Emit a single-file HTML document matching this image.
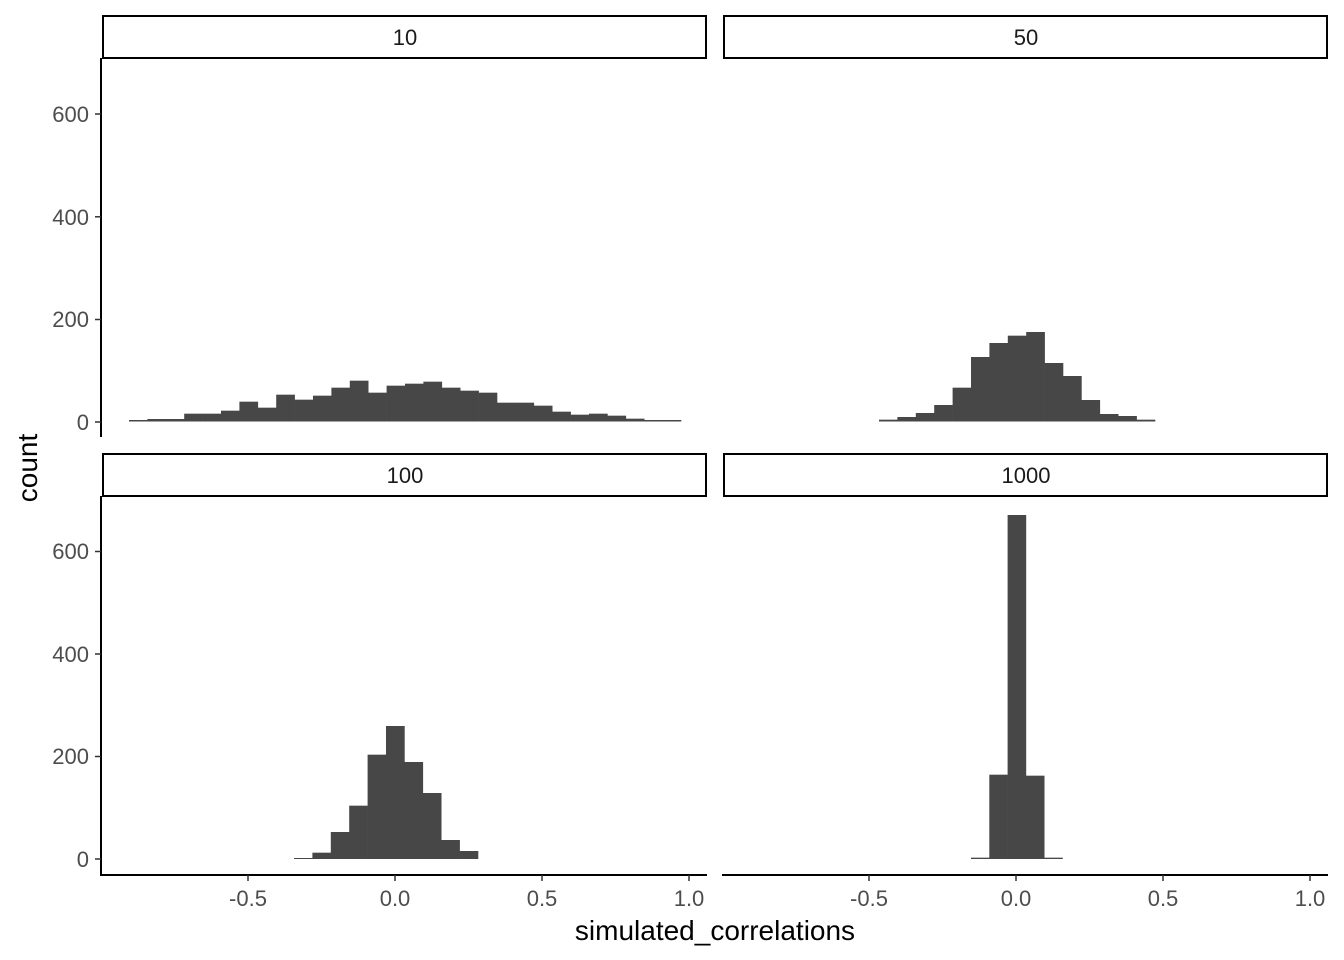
<!DOCTYPE html>
<html><head><meta charset="utf-8"><style>
html,body{margin:0;padding:0;background:#fff;}
svg{display:block;font-family:"Liberation Sans",Arial,sans-serif;}
</style></head><body>
<svg id="s" width="1344" height="960" xmlns="http://www.w3.org/2000/svg">
<rect width="1344" height="960" fill="#fff"/>
<rect x="103" y="16" width="603" height="42" fill="#fff" stroke="#000" stroke-width="2"/>
<rect x="724" y="16" width="603" height="42" fill="#fff" stroke="#000" stroke-width="2"/>
<rect x="103" y="454" width="603" height="42" fill="#fff" stroke="#000" stroke-width="2"/>
<rect x="724" y="454" width="603" height="42" fill="#fff" stroke="#000" stroke-width="2"/>
<g font-size="22" fill="#1a1a1a" text-anchor="middle">
<text x="405" y="45">10</text><text x="1026" y="45">50</text>
<text x="405" y="483">100</text><text x="1026" y="483">1000</text>
</g>
<g id="bars" fill="#474747"></g>
<g stroke="#000" stroke-width="2" fill="none">
<line x1="101" y1="58" x2="101" y2="437"/>
<line x1="101" y1="496" x2="101" y2="876"/>
<line x1="100" y1="875" x2="707" y2="875"/>
<line x1="722" y1="875" x2="1328" y2="875"/>
</g>
<g stroke="#333" stroke-width="1.5">
<line x1="95" y1="422" x2="101" y2="422"/><line x1="95" y1="319.5" x2="101" y2="319.5"/><line x1="95" y1="216.8" x2="101" y2="216.8"/><line x1="95" y1="114" x2="101" y2="114"/>
<line x1="95" y1="859" x2="101" y2="859"/><line x1="95" y1="756.5" x2="101" y2="756.5"/><line x1="95" y1="654" x2="101" y2="654"/><line x1="95" y1="551.5" x2="101" y2="551.5"/>
<line x1="248" y1="875" x2="248" y2="881"/><line x1="395" y1="875" x2="395" y2="881"/><line x1="542" y1="875" x2="542" y2="881"/><line x1="689" y1="875" x2="689" y2="881"/>
<line x1="869" y1="875" x2="869" y2="881"/><line x1="1016" y1="875" x2="1016" y2="881"/><line x1="1163" y1="875" x2="1163" y2="881"/><line x1="1310" y1="875" x2="1310" y2="881"/>
</g>
<g font-size="22" fill="#4d4d4d" text-anchor="end">
<text x="89" y="430">0</text><text x="89" y="327">200</text><text x="89" y="225">400</text><text x="89" y="122">600</text>
<text x="89" y="867">0</text><text x="89" y="764">200</text><text x="89" y="662">400</text><text x="89" y="559">600</text>
</g>
<g font-size="22" fill="#4d4d4d" text-anchor="middle">
<text x="248" y="906">-0.5</text><text x="395" y="906">0.0</text><text x="542" y="906">0.5</text><text x="689" y="906">1.0</text>
<text x="869" y="906">-0.5</text><text x="1016" y="906">0.0</text><text x="1163" y="906">0.5</text><text x="1310" y="906">1.0</text>
</g>
<text x="715" y="940" font-size="28" fill="#000" text-anchor="middle">simulated_correlations</text>
<text transform="translate(37,468) rotate(-90)" font-size="28" fill="#000" text-anchor="middle">count</text>
</svg>
<script>
var g=document.getElementById('bars');
function draw(x0,w,base,oy,sc,tops){
 var s='';
 for(var i=0;i<tops.length;i++){
  var t=oy+tops[i]/sc; var h=base-t; if(h<1){h=1;t=base-1;}
  s+='<rect x="'+(x0+i*w).toFixed(2)+'" y="'+t.toFixed(2)+'" width="'+(w+0.3).toFixed(2)+'" height="'+h.toFixed(2)+'"/>';
 }
 g.innerHTML+=s;
}
draw(129,18.4,421.5,360,3,[180,177,177,161,161,152,125,143,104,119,107,83,62,98,77,71,65,83,92,98,128,128,137,155,164,161,167,176,180,180]);
draw(879,18.4,421.5,320,3,[299,291,279,255,203,111,69,47,36,129,168,240,282,288,299]);
draw(294,18.4,859,715,3,[429,413,351,272,119,33,141,234,375,408]);
draw(971,18.3,859,505,3,[1058,809,30,812,1058]);
</script>
</body></html>
